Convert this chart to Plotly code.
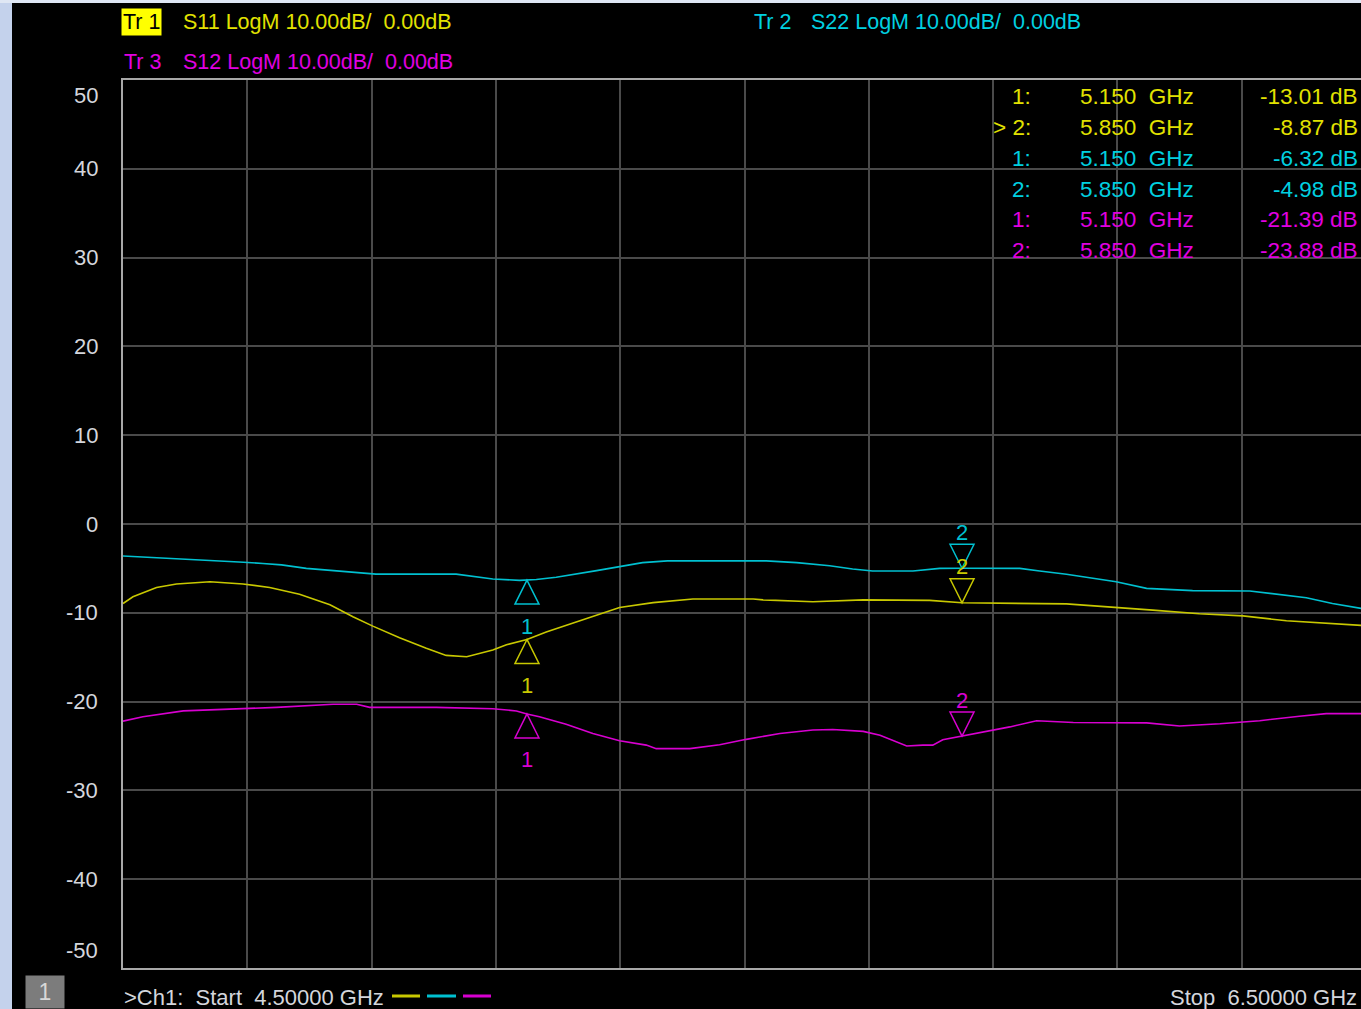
import plotly.graph_objects as go

# ---------------- data ----------------
s22_freq = [4.500, 4.546, 4.594, 4.656, 4.694, 4.725, 4.755, 4.795, 4.845, 4.886, 4.907, 5.036,
            5.069, 5.095, 5.138, 5.150, 5.165, 5.197, 5.230, 5.262, 5.299, 5.336, 5.376, 5.535,
            5.584, 5.637, 5.674, 5.706, 5.771, 5.814, 5.850, 5.943, 5.975, 6.018, 6.050, 6.098,
            6.147, 6.221, 6.313, 6.356, 6.404, 6.446, 6.490, 6.500]
s22_db = [-3.6, -3.75, -3.95, -4.1, -4.3, -4.45, -4.6, -5.0, -5.3, -5.5, -5.65, -5.65,
          -6.0, -6.2, -6.35, -6.32, -6.25, -6.0, -5.65, -5.25, -4.8, -4.35, -4.15, -4.15,
          -4.35, -4.7, -5.07, -5.3, -5.3, -5.0, -4.98, -5.0, -5.3, -5.65, -6.0, -6.5,
          -7.25, -7.5, -7.55, -7.9, -8.3, -8.95, -9.5, -9.6]

s11_freq = [4.500, 4.516, 4.554, 4.586, 4.640, 4.693, 4.736, 4.784, 4.833, 4.870, 4.902, 4.945,
            4.988, 5.020, 5.053, 5.095, 5.117, 5.150, 5.181, 5.235, 5.299, 5.353, 5.417, 5.514,
            5.530, 5.610, 5.691, 5.798, 5.850, 6.018, 6.082, 6.157, 6.232, 6.302, 6.372, 6.447,
            6.490, 6.500]
s11_db = [-8.95, -8.2, -7.15, -6.75, -6.5, -6.75, -7.15, -7.9, -9.1, -10.45, -11.5, -12.8,
          -14.0, -14.8, -14.95, -14.2, -13.6, -13.01, -12.15, -10.9, -9.4, -8.85, -8.45, -8.45,
          -8.55, -8.75, -8.55, -8.6, -8.87, -9.0, -9.3, -9.7, -10.1, -10.35, -10.9, -11.2,
          -11.4, -11.45]

s12_freq = [4.500, 4.532, 4.597, 4.666, 4.747, 4.838, 4.876, 4.897, 5.004, 5.095, 5.133, 5.150,
            5.170, 5.213, 5.256, 5.299, 5.342, 5.358, 5.412, 5.460, 5.503, 5.557, 5.610, 5.642,
            5.691, 5.718, 5.761, 5.787, 5.803, 5.819, 5.850, 5.895, 5.927, 5.970, 6.029, 6.147,
            6.200, 6.265, 6.329, 6.393, 6.436, 6.490, 6.500]
s12_db = [-22.2, -21.7, -21.05, -20.85, -20.65, -20.3, -20.3, -20.65, -20.65, -20.8, -21.05, -21.39,
          -21.7, -22.55, -23.6, -24.4, -24.9, -25.3, -25.3, -24.85, -24.25, -23.6, -23.2, -23.15,
          -23.35, -23.8, -25.0, -24.9, -24.9, -24.3, -23.88, -23.2, -22.85, -22.15, -22.35, -22.4,
          -22.75, -22.5, -22.15, -21.65, -21.35, -21.35, -21.35]

marker_freqs = [5.150, 5.850]
s11_marker_db = [-13.01, -8.87]
s22_marker_db = [-6.32, -4.98]
s12_marker_db = [-21.39, -23.88]

y_ticks = [50, 40, 30, 20, 10, 0, -10, -20, -30, -40, -50]
start_ghz = 4.5
stop_ghz = 6.5

# ---------------- style ----------------
W, H = 1361, 1009
L, T, B = 123, 80, 41
PW, PH = W - L, H - T - B
FONT = "Liberation Sans Narrow, Arial Narrow, Liberation Sans, Arial, sans-serif"
YEL_T, CYA_T, MAG_T = "#e2e200", "#00d0e0", "#e000e0"
YEL, CYA, MAG = "#c8c800", "#00c0d0", "#d800d0"
LABEL = "#d4d6dc"

def px(xp):
    return (xp - L) / PW

def py(yp):
    return (H - B - yp) / PH

x_per_px = 0.2 / 124.3
x_max = start_ghz + PW * x_per_px

fig = go.Figure()
traces = [
    ("S11", s11_freq, s11_db, YEL),
    ("S22", s22_freq, s22_db, CYA),
    ("S12", s12_freq, s12_db, MAG),
]
for name, f, d, c in traces:
    fig.add_trace(go.Scatter(x=f, y=d, mode="lines", name=name,
                             line=dict(color=c, width=1.6), hoverinfo="x+y"))

shapes = []
annotations = []

# background strips
shapes.append(dict(type="rect", xref="paper", yref="paper", x0=px(0), x1=px(12), y0=py(H), y1=py(0),
                   fillcolor="#c4d2ec", line_width=0, layer="below"))
shapes.append(dict(type="rect", xref="paper", yref="paper", x0=px(0), x1=px(W), y0=py(3), y1=py(0),
                   fillcolor="#dfe7f4", line_width=0, layer="below"))

# markers
marker_sets = [(s11_marker_db, YEL), (s22_marker_db, CYA), (s12_marker_db, MAG)]
for mdb, c in marker_sets:
    for i, (f, v) in enumerate(zip(marker_freqs, mdb)):
        if i == 0:
            path = "M 0,0 L -12,-24 L 12,-24 Z"
            shift = -46
        else:
            path = "M 0,0 L -12,24 L 12,24 Z"
            shift = 36
        shapes.append(dict(type="path", xref="x", yref="y", xsizemode="pixel", ysizemode="pixel",
                           xanchor=f, yanchor=v, path=path, line=dict(color=c, width=1.5),
                           fillcolor="rgba(0,0,0,0)"))
        annotations.append(dict(x=f, y=v, xref="x", yref="y", text=str(i + 1), showarrow=False,
                                yshift=shift, font=dict(family=FONT, size=22, color=c)))

# reference level arrow
shapes.append(dict(type="path", xref="x", yref="y", xsizemode="pixel", ysizemode="pixel",
                   xanchor=start_ghz, yanchor=0, path="M -13,8 L 0,0 L -13,-8 Z",
                   fillcolor="#ffff00", line=dict(color="#ffff00", width=0)))

# y tick labels
for v in y_ticks:
    ys = 0
    if v == y_ticks[0]:
        ys = -15
    elif v == y_ticks[-1]:
        ys = 18
    annotations.append(dict(x=px(100), y=v, xref="paper", yref="y", text=str(v), showarrow=False,
                            xanchor="right", yanchor="middle", yshift=ys,
                            font=dict(family=FONT, size=22, color=LABEL)))

# header
def txt(x, y, s, color, size=23, anchor="left", **kw):
    annotations.append(dict(x=px(x), y=py(y), xref="paper", yref="paper", text=s, showarrow=False,
                            xanchor=anchor, yanchor="middle", font=dict(family=FONT, size=size, color=color), **kw))

nb = "\u00a0"
HS = 21.5
txt(121, 22, "Tr" + nb + "1", "#000000", size=HS, bgcolor="#ffff00", borderpad=1)
txt(181, 22, "S11 LogM 10.00dB/" + nb + nb + "0.00dB", YEL_T, size=HS)
txt(752, 22, "Tr" + nb + "2", CYA_T, size=HS)
txt(809, 22, "S22 LogM 10.00dB/" + nb + nb + "0.00dB", CYA_T, size=HS)
txt(122, 62, "Tr" + nb + "3", MAG_T, size=HS)
txt(181, 62, "S12 LogM 10.00dB/" + nb + nb + "0.00dB", MAG_T, size=HS)

# marker table
row_y = [97, 127.5, 158, 189, 219.5, 250]
rows = []
for ti, (mdb, c) in enumerate([(s11_marker_db, YEL_T), (s22_marker_db, CYA_T), (s12_marker_db, MAG_T)]):
    for i, (f, v) in enumerate(zip(marker_freqs, mdb)):
        lab = f"{i + 1}:"
        if ti == 0 and i == 1:
            lab = ">" + nb + lab
        rows.append((lab, f"{f:.3f}" + nb + nb + "GHz", f"{v:.2f}" + nb + "dB", c))
for (lab, fr, val, c), yy in zip(rows, row_y):
    txt(1033, yy, lab, c, size=22.5, anchor="right")
    txt(1078, yy, fr, c, size=22.5)
    txt(1360, yy, val, c, size=22.5, anchor="right")

# footer
annotations.append(dict(x=px(45), y=py(992), xref="paper", yref="paper", text=nb + "1" + nb, showarrow=False,
                        xanchor="center", yanchor="middle", bgcolor="#7c7c7c", borderpad=2,
                        font=dict(family=FONT, size=23, color="#d8d8d8"), width=34, height=28))
txt(122, 997, ">Ch1:" + nb + nb + "Start" + nb + nb + "4.50000 GHz", LABEL, size=22)
txt(1359, 997, "Stop" + nb + nb + "6.50000 GHz", LABEL, size=22, anchor="right")
for (x0, x1, c) in [(392, 420, YEL), (427, 456, CYA), (463, 491, MAG)]:
    shapes.append(dict(type="line", xref="paper", yref="paper", x0=px(x0), x1=px(x1), y0=py(996), y1=py(996),
                       line=dict(color=c, width=3)))

fig.update_layout(
    width=W, height=H,
    margin=dict(l=L, r=0, t=T, b=B, pad=0),
    paper_bgcolor="#000000", plot_bgcolor="#000000",
    showlegend=False,
    shapes=shapes, annotations=annotations,
    xaxis=dict(range=[start_ghz, x_max], tick0=start_ghz, dtick=0.2, showticklabels=False,
               showgrid=True, gridcolor="#4a4a4a", gridwidth=1.5, zeroline=False,
               showline=True, linecolor="#a8a8a8", linewidth=1.5, mirror=True, ticks=""),
    yaxis=dict(range=[-50, 50], tick0=-50, dtick=10, showticklabels=False,
               showgrid=True, gridcolor="#4a4a4a", gridwidth=1.5, zeroline=False,
               showline=True, linecolor="#a8a8a8", linewidth=1.5, ticks=""),
)

fig.write_html(
    "out.html",
    config={"displayModeBar": False},
    post_script="document.body.style.margin='0';document.body.style.padding='0';"
                "document.body.style.overflow='hidden';document.documentElement.style.overflow='hidden';",
)
